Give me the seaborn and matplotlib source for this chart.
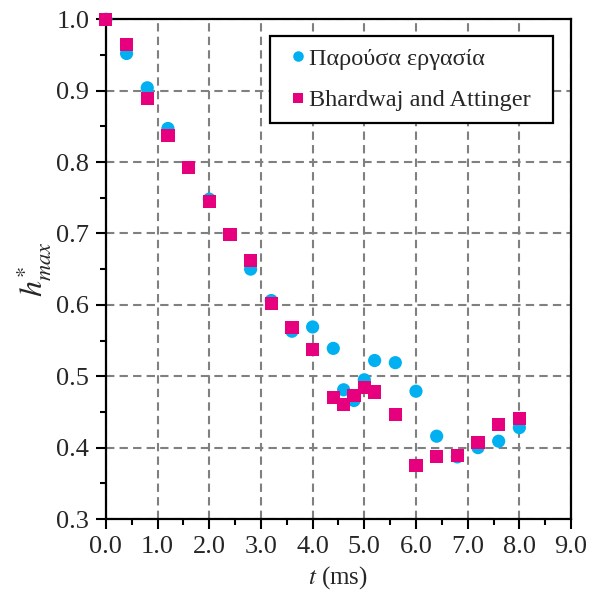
import matplotlib
matplotlib.use("Agg")
import matplotlib.pyplot as plt
from matplotlib.ticker import MultipleLocator, FormatStrFormatter
import seaborn as sns
import pandas as pd

# Maximum dimensionless height h*_max over time t (ms)
t_present = [0.0, 0.4, 0.8, 1.2, 2.0, 2.8, 3.2, 3.6, 4.0, 4.4, 4.6, 4.8,
             5.0, 5.2, 5.6, 6.0, 6.4, 6.8, 7.2, 7.6, 8.0]
h_present = [1.000, 0.952, 0.904, 0.847, 0.748, 0.650, 0.606, 0.563, 0.569,
             0.539, 0.481, 0.466, 0.495, 0.522, 0.519, 0.479, 0.416, 0.387,
             0.400, 0.409, 0.428]

t_ba = [0.0, 0.4, 0.8, 1.2, 1.6, 2.0, 2.4, 2.8, 3.2, 3.6, 4.0, 4.4, 4.6,
        4.8, 5.0, 5.2, 5.6, 6.0, 6.4, 6.8, 7.2, 7.6, 8.0]
h_ba = [1.000, 0.965, 0.889, 0.837, 0.792, 0.745, 0.699, 0.662, 0.602,
        0.568, 0.538, 0.470, 0.460, 0.473, 0.484, 0.478, 0.446, 0.375,
        0.387, 0.389, 0.407, 0.432, 0.441]

label_present = "Παρούσα εργασία"
label_ba = "Bhardwaj and Attinger"

df = pd.concat([
    pd.DataFrame({"t": t_present, "h": h_present, "series": label_present}),
    pd.DataFrame({"t": t_ba, "h": h_ba, "series": label_ba}),
], ignore_index=True)

sns.set_theme(style="white")
plt.rcParams["font.family"] = ["Liberation Serif", "DejaVu Serif"]
plt.rcParams["mathtext.fontset"] = "stix"

fig = plt.figure(figsize=(5.95, 6.01), dpi=100)
ax = fig.add_axes([0.178, 0.1364, 0.7817, 0.8316])

sns.scatterplot(
    data=df, x="t", y="h", hue="series", style="series",
    palette={label_present: "#00B0F0", label_ba: "#E6007E"},
    markers={label_present: "o", label_ba: "s"},
    s=90, linewidth=0, ax=ax, zorder=3, clip_on=False,
)

ax.set_xlim(0, 9)
ax.set_ylim(0.3, 1.0)
ax.xaxis.set_major_locator(MultipleLocator(1.0))
ax.xaxis.set_minor_locator(MultipleLocator(0.5))
ax.yaxis.set_major_locator(MultipleLocator(0.1))
ax.yaxis.set_minor_locator(MultipleLocator(0.05))
ax.xaxis.set_major_formatter(FormatStrFormatter("%.1f"))
ax.yaxis.set_major_formatter(FormatStrFormatter("%.1f"))

ax.grid(True, which="major", color="#808080", linestyle=(0, (4, 2.5)),
        linewidth=1.5, zorder=0)
ax.set_axisbelow(True)

for sp in ax.spines.values():
    sp.set_visible(True)
    sp.set_color("black")
    sp.set_linewidth(1.6)

ax.tick_params(axis="both", which="major", direction="out", length=7,
               width=1.5, color="black", labelsize=19, pad=5)
ax.tick_params(axis="both", which="minor", direction="out", length=4.5,
               width=1.5, color="black")
ax.tick_params(axis="x", which="both", bottom=True)
ax.tick_params(axis="y", which="both", left=True)

ax.set_xlabel(r"$t$ (ms)", fontsize=18, labelpad=5)
ax.set_ylabel(r"$h^{*}_{max}$", fontsize=23, labelpad=2)

handles, labels = ax.get_legend_handles_labels()
leg = ax.legend(handles, labels, loc="upper left",
                bbox_to_anchor=(0.3527, 0.966, 0.6086, 0.0), mode="expand",
                fontsize=17.5, frameon=True, fancybox=False,
                edgecolor="black", framealpha=1,
                handletextpad=-0.25, handlelength=1.4, borderpad=0.47,
                labelspacing=0.8, markerscale=0.8, borderaxespad=0)
leg.get_frame().set_linewidth(1.6)

fig.savefig("out.png", dpi=100)
